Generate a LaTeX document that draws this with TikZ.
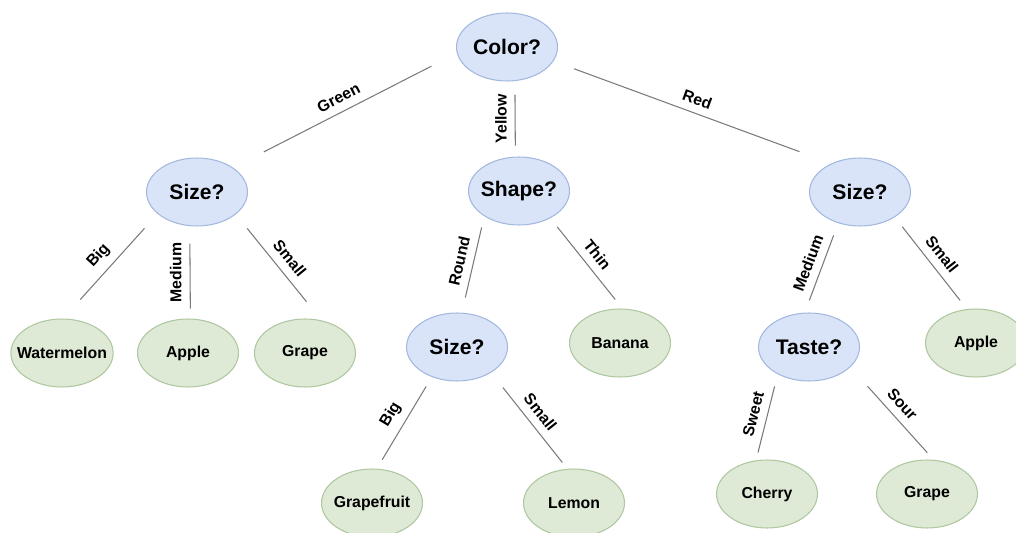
\documentclass[tikz,border=0pt]{standalone}
\usepackage{fontspec}
\setmainfont{Liberation Sans}
\usetikzlibrary{shapes.geometric}

\definecolor{askfill}{HTML}{DAE4F8}
\definecolor{askline}{HTML}{A3B8DF}
\definecolor{fruitfill}{HTML}{DEEAD6}
\definecolor{fruitline}{HTML}{AFC7A0}
\definecolor{edgegray}{HTML}{7A7A7A}

\begin{document}
\begin{tikzpicture}[x=0.02cm,y=-0.02cm]
\tikzstyle{every node}=[font=\bfseries]
\tikzstyle{ask}=[ellipse,draw=askline,fill=askfill,line width=0.6pt,
  minimum width=2.02cm,minimum height=1.36cm,inner xsep=-5pt,inner ysep=0pt,
  font=\fontsize{12}{14}\selectfont\bfseries]
\tikzstyle{fruit}=[ellipse,draw=fruitline,fill=fruitfill,line width=0.6pt,
  minimum width=2.02cm,minimum height=1.36cm,inner xsep=-5pt,inner ysep=0pt,
  font=\fontsize{9}{11}\selectfont\bfseries]
\tikzstyle{branch}=[draw=edgegray,line width=0.6pt]
\tikzstyle{answer}=[font=\fontsize{9}{11}\selectfont\bfseries,inner sep=4.5pt]

% Fix the page to the size of the picture
\useasboundingbox (0,0) rectangle (1016,533);

%
% Draw the question nodes
%

\node[ask] (color) at (507,47) {Color?};
\node[ask] (sizeL) at (197,192) {Size?};
\node[ask] (shape) at (519,191) {Shape?};
\node[ask] (sizeR) at (860,192) {Size?};
\node[ask] (sizeM) at (457,347) {Size?};
\node[ask] (taste) at (809,347) {Taste?};

%
% Draw the fruit leaves
%

\node[fruit] (melon) at (62,353) {Watermelon};
\node[fruit] (appleL) at (188,353) {Apple};
\node[fruit] (grapeL) at (305,353) {Grape};
\node[fruit] (banana) at (620,343) {Banana};
\node[fruit] (appleR) at (976,343) {Apple};
\node[fruit] (grapefruit) at (372,503) {Grapefruit};
\node[fruit] (lemon) at (574,503) {Lemon};
\node[fruit] (cherry) at (767,494) {Cherry};
\node[fruit] (grapeR) at (927,494) {Grape};

%
% Draw the branches out of the root
%

\draw[branch,shorten <=0.57cm,shorten >=0.69cm] (color.187) -- (sizeL.34.6)
  node[answer,midway,sloped,above] {Green};
\draw[branch,shorten <=0.27cm,shorten >=0.22cm] (color.283.4) -- (shape.96.7)
  node[answer,midway,rotate=90,anchor=south] {Yellow};
\draw[branch,shorten <=0.44cm,shorten >=0.68cm] (color.343.9) -- (sizeR.135.2)
  node[answer,midway,sloped,above] {Red};

% Left size question
\draw[branch,shorten <=0.39cm,shorten >=0.51cm] (sizeL.209) -- (melon.88.6)
  node[answer,midway,sloped,above] {Big};
\draw[branch,shorten <=0.35cm,shorten >=0.20cm] (sizeL.258.3) -- (appleL.86.6)
  node[answer,midway,rotate=90,anchor=south] {Medium};
\draw[branch,shorten <=0.36cm,shorten >=0.48cm] (sizeL.330.6) -- (grapeL.63.9)
  node[answer,midway,sloped,above] {Small};

% Shape question
\draw[branch,shorten <=0.23cm,shorten >=0.31cm] (shape.216) -- (sizeM.82.6)
  node[answer,midway,sloped,above] {Round};
\draw[branch,shorten <=0.22cm,shorten >=0.23cm] (shape.319.7) -- (banana.86.7)
  node[answer,midway,sloped,above] {Thin};

% Middle size question
\draw[branch,shorten <=0.22cm,shorten >=0.21cm] (sizeM.230.6) -- (grapefruit.82.4)
  node[answer,midway,sloped,above] {Big};
\draw[branch,shorten <=0.38cm,shorten >=0.16cm] (sizeM.323.9) -- (lemon.101.9)
  node[answer,midway,sloped,above] {Small};

% Right size question
\draw[branch,shorten <=0.26cm,shorten >=0.26cm] (sizeR.235.2) -- (taste.97.6)
  node[answer,midway,sloped,above] {Medium};
\draw[branch,shorten <=0.24cm,shorten >=0.22cm] (sizeR.324.7) -- (appleR.105.6)
  node[answer,midway,sloped,above] {Small};

% Taste question
\draw[branch,shorten <=0.25cm,shorten >=0.16cm] (taste.221) -- (cherry.108.4)
  node[answer,midway,sloped,above] {Sweet};
\draw[branch,shorten <=0.51cm,shorten >=0.19cm] (taste.334) -- (grapeR.79.1)
  node[answer,midway,sloped,above] {Sour};

\end{tikzpicture}
\end{document}
